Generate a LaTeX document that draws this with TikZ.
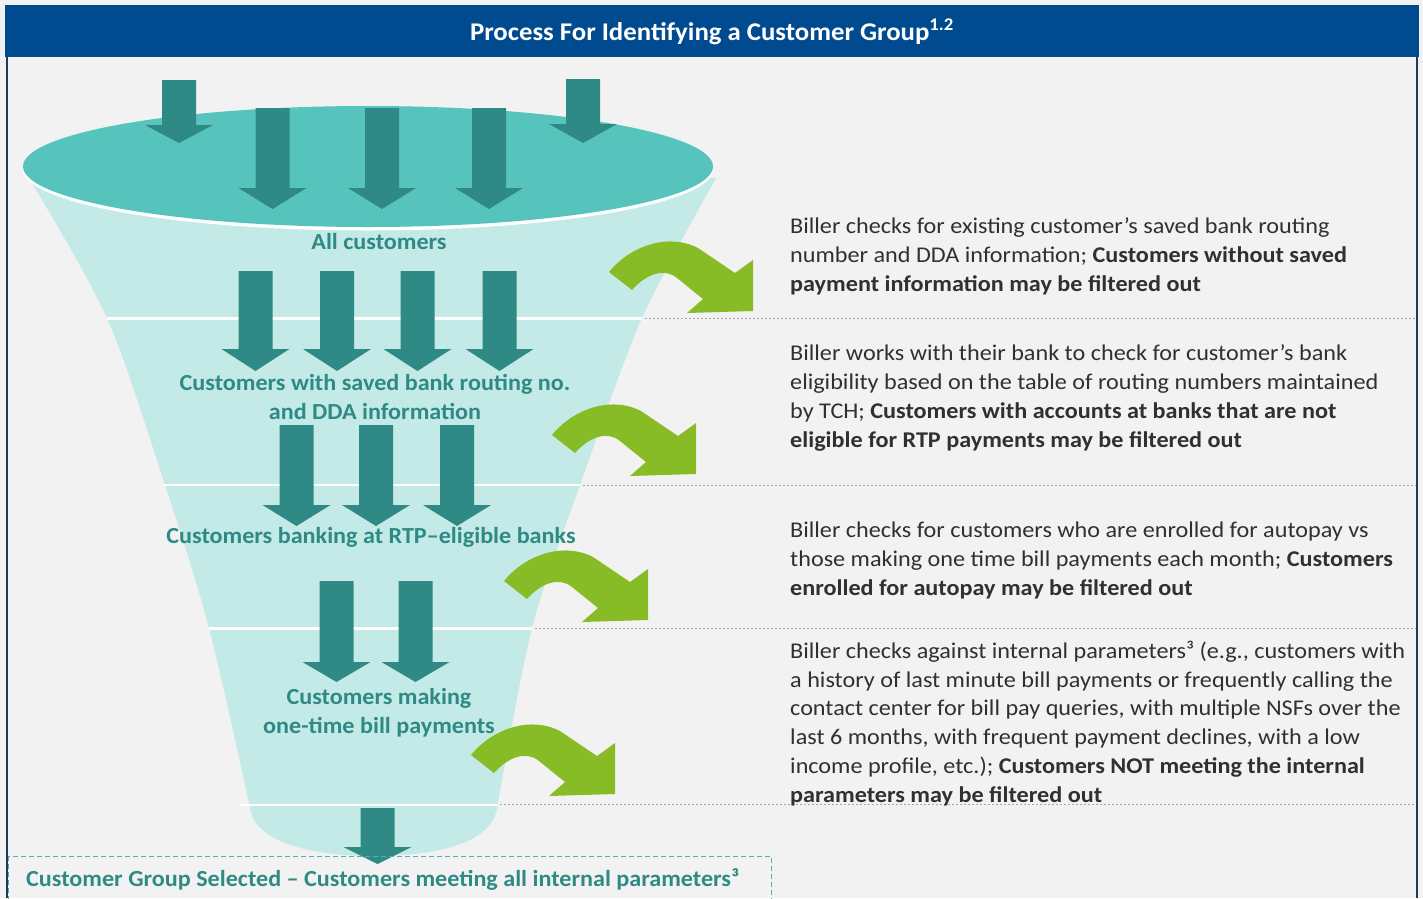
\documentclass[tikz,border=0pt]{standalone}
\usepackage{fontspec}
\setmainfont{Carlito}
\newfontfamily\descfont{Carlito}[FakeStretch=1.075]
\newfontfamily\labfont{Carlito}[FakeStretch=1.05]
\definecolor{bg}{HTML}{F2F2F2}
\definecolor{titleblue}{HTML}{004A8F}
\definecolor{framenavy}{HTML}{1F3A5F}
\definecolor{funnelcyan}{HTML}{C3EAE6}
\definecolor{rimteal}{HTML}{56C3BD}
\definecolor{arrowteal}{HTML}{2F8A85}
\definecolor{leafgreen}{HTML}{88BC27}
\definecolor{textgray}{HTML}{303030}
\definecolor{dashteal}{HTML}{5AAFA9}
\tikzset{
  teal arrow/.style={fill=arrowteal},
  green arrow/.style={fill=leafgreen},
  sep white/.style={draw=white, line width=2.2pt},
  sep dot/.style={draw=black!35, line width=0.9pt, dash pattern=on 2pt off 2pt},
  flabel/.style={text=arrowteal, font=\labfont\fontsize{23}{29}\selectfont\bfseries, inner sep=0pt, anchor=base},
  desc/.style={text=textgray, font=\descfont\fontsize{22.5}{29}\selectfont, inner sep=0pt, anchor=base west},
}
\newcommand\dnarrow[4]{%
  \fill[teal arrow] (#1-17,#2) -- (#1+17,#2) -- (#1+17,#3-#4) -- (#1+34,#3-#4) -- (#1,#3) -- (#1-34,#3-#4) -- (#1-17,#3-#4) -- cycle;}
\newcommand\grarrow[2]{%
  \fill[green arrow, shift={(#1,#2)}] (-144,-39) .. controls (-122,-66) and (-84,-78) .. (-55,-63) -- (-18,-38) -- (0,-51) -- (0,0) -- (-66,2) -- (-50,-12) -- (-76,-33) .. controls (-88,-43) and (-106,-38) .. (-121,-21) -- cycle;}
\begin{document}
\begin{tikzpicture}[x=1pt,y=-1pt]
\useasboundingbox (0,0) rectangle (1423,898);
\fill[bg] (0,0) rectangle (1423,898);
% funnel body
\fill[funnelcyan] plot[smooth] coordinates {(29,178) (107,318) (165,485) (209,628) (250,808)}
  .. controls (255,842) and (310,856) .. (374,856) .. controls (440,856) and (492,842) .. (497,808)
  -- plot[smooth] coordinates {(497,808) (532,628) (580,485) (642,318) (716,178)} -- cycle;
% rim
\fill[white] (368,169.5) ellipse[x radius=345, y radius=61];
\fill[rimteal] (368,166.5) ellipse[x radius=345, y radius=60.5];
% separators
\draw[sep white] (107,318.5) -- (642,318.5);
\draw[sep white] (163,485) -- (580,485);
\draw[sep white] (209,628.5) -- (532,628.5);
\draw[sep white] (240,805) -- (497,805);
\draw[sep dot] (645,318.5) -- (1416,318.5);
\draw[sep dot] (583,485) -- (1416,485);
\draw[sep dot] (535,628.5) -- (1416,628.5);
\draw[sep dot] (500,804) -- (1416,804);
% teal arrows
\dnarrow{179}{80}{143}{18}
\dnarrow{583}{79}{143}{19}
\dnarrow{272.5}{108}{209}{21}
\dnarrow{382}{108}{209}{21}
\dnarrow{489}{108}{209}{21}
\dnarrow{255.5}{271}{371}{22}
\dnarrow{337}{271}{371}{22}
\dnarrow{417.5}{271}{371}{22}
\dnarrow{499.5}{271}{371}{22}
\dnarrow{296.5}{425}{526}{21}
\dnarrow{376}{425}{526}{21}
\dnarrow{457}{425}{526}{21}
\dnarrow{336.5}{581}{682}{20}
\dnarrow{415.5}{581}{682}{20}
\dnarrow{377.5}{808}{864}{17}
% funnel labels
\node[flabel] (la) at (379,249) {All customers};
\node[flabel] (lb1) at (375,390) {Customers with saved bank routing no.};
\node[flabel] (lb2) at (375,419) {and DDA information};
\node[flabel] (lc) at (371,543) {Customers banking at RTP–eligible banks};
\node[flabel] (ld1) at (379,704) {Customers making};
\node[flabel] (ld2) at (379,733) {one-time bill payments};
% green arrows
\grarrow{753}{311}
\grarrow{696}{474}
\grarrow{648}{620}
\grarrow{615}{794}
% right descriptions
\node[desc] (r11) at (790,233) {Biller checks for existing customer’s saved bank routing};
\node[desc] (r12) at (790,262) {number and DDA information; \textbf{Customers without saved}};
\node[desc] (r13) at (790,291) {\textbf{payment information may be filtered out}};
\node[desc] (r21) at (790,360) {Biller works with their bank to check for customer’s bank};
\node[desc] (r22) at (790,389) {eligibility based on the table of routing numbers maintained};
\node[desc] (r23) at (790,418) {by TCH; \textbf{Customers with accounts at banks that are not}};
\node[desc] (r24) at (790,447) {\textbf{eligible for RTP payments may be filtered out}};
\node[desc] (r31) at (790,537) {Biller checks for customers who are enrolled for autopay vs};
\node[desc] (r32) at (790,566) {those making one time bill payments each month; \textbf{Customers}};
\node[desc] (r33) at (790,595) {\textbf{enrolled for autopay may be filtered out}};
\node[desc] (r41) at (790,658) {Biller checks against internal parameters³ (e.g., customers with};
\node[desc] (r42) at (790,687) {a history of last minute bill payments or frequently calling the};
\node[desc] (r43) at (790,715) {contact center for bill pay queries, with multiple NSFs over the};
\node[desc] (r44) at (790,744) {last 6 months, with frequent payment declines, with a low};
\node[desc] (r45) at (790,773) {income profile, etc.); \textbf{Customers NOT meeting the internal}};
\node[desc] (r46) at (790,802) {\textbf{parameters may be filtered out}};
% title bar
\fill[titleblue] (5,5) rectangle (1419,57);
\node[text=white, font=\labfont\fontsize{25.5}{30}\selectfont\bfseries, inner sep=0pt, anchor=base] (title) at (712,40) {Process For Identifying a Customer Group\textsuperscript{1.2}};
% frame
\draw[framenavy, line width=2pt] (7,57) -- (7,898);
\draw[framenavy, line width=2pt] (1417,57) -- (1417,898);
% bottom box
\draw[dashteal, line width=1pt, dash pattern=on 5pt off 3pt] (8,856) rectangle (771,910);
\node[flabel, anchor=base west] (sel) at (26,886) {Customer Group Selected – Customers meeting all internal parameters³};
\end{tikzpicture}
\end{document}
